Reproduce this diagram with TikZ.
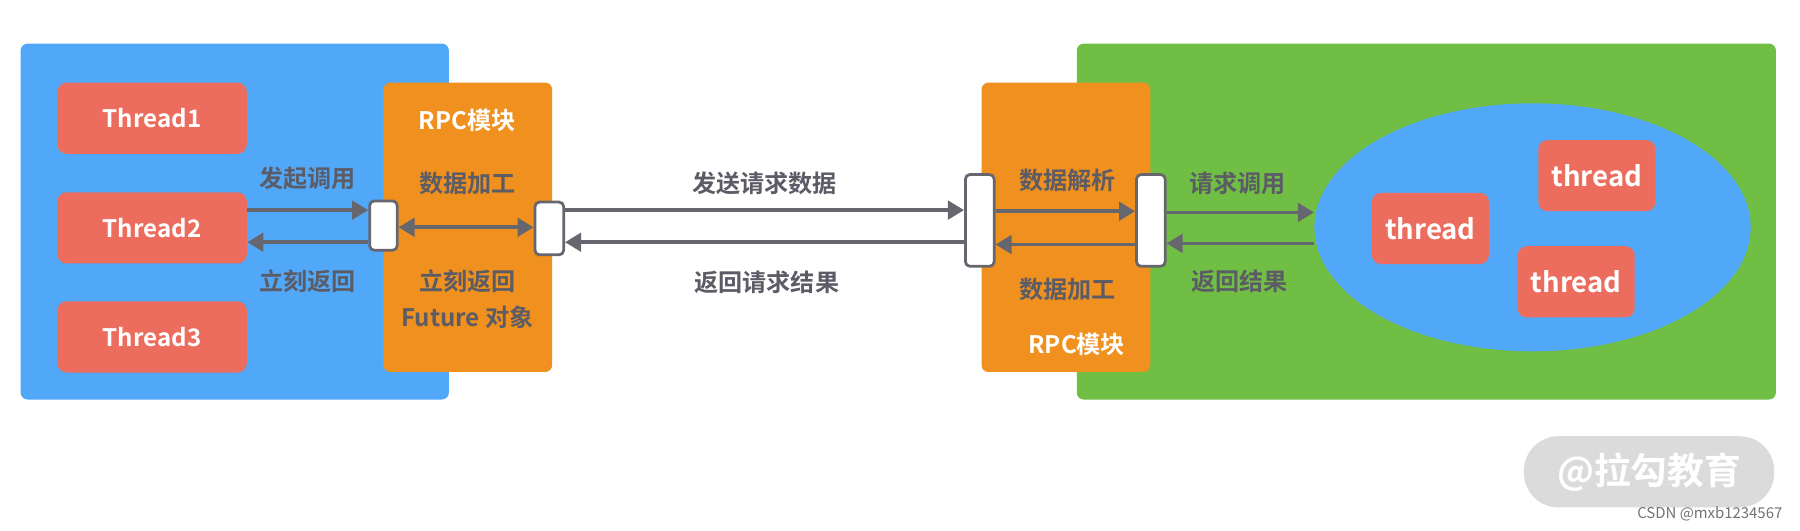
\documentclass[tikz,border=0pt]{standalone}
\usepackage{fontspec}
\setmainfont{Noto Sans CJK SC}[BoldFont={* Bold}]
\usetikzlibrary{arrows.meta,shapes.geometric}
\definecolor{bbg}{HTML}{52A8F8}
\definecolor{gbg}{HTML}{70BE44}
\definecolor{obg}{HTML}{F0901E}
\definecolor{rbg}{HTML}{EC6C5E}
\definecolor{tx}{HTML}{5C5C66}
\definecolor{ar}{HTML}{66666F}
\tikzset{
 thr/.style={fill=rbg,rounded corners=4pt,text=white,font=\fontsize{10.5}{12}\selectfont\bfseries},
 port/.style={draw=ar,line width=1.2pt,fill=white,rounded corners=2pt},
 lab/.style={text=tx,font=\fontsize{10.5}{12}\selectfont\bfseries},
 conn/.style={draw=ar,line width=1.6pt,-{Triangle[length=7pt,width=8pt]}},
}
\begin{document}
\begin{tikzpicture}[x=0.5pt,y=-0.5pt]
\useasboundingbox (0,0) rectangle (1568,462);
\fill[white] (0,0) rectangle (1568,462);
% left
\fill[bbg,rounded corners=3pt] (18,38) rectangle (391,348);
\node[thr,minimum width=82.5pt,minimum height=31pt] (t1) at (132.5,103) {Thread1};
\node[thr,minimum width=82.5pt,minimum height=31pt] (t2) at (132.5,198.5) {Thread2};
\node[thr,minimum width=82.5pt,minimum height=31pt] (t3) at (132.5,293.5) {Thread3};
\fill[obg,rounded corners=3pt] (334,72) rectangle (481,324);
\node[port,minimum width=12pt,minimum height=21.5pt,inner sep=0] (pa) at (334,196.5) {};
\node[port,minimum width=12.5pt,minimum height=23pt,inner sep=0] (pb) at (478.5,199) {};
% right
\fill[gbg,rounded corners=3pt] (938,38) rectangle (1547,348);
\fill[obg,rounded corners=3pt] (855,72) rectangle (1002,324);
\node[port,minimum width=12.5pt,minimum height=40pt,inner sep=0] (pc) at (853.5,192) {};
\node[port,minimum width=12.5pt,minimum height=40pt,inner sep=0] (pd) at (1002.5,192) {};
\node[ellipse,fill=bbg,minimum width=190pt,minimum height=108pt,inner sep=0] (el) at (1335,198) {};
\node[thr,minimum width=51pt,minimum height=31pt,font=\fontsize{12}{14}\selectfont\bfseries] (r1) at (1246,199) {thread};
\node[thr,minimum width=51pt,minimum height=31pt,font=\fontsize{12}{14}\selectfont\bfseries] (r2) at (1391,153) {thread};
\node[thr,minimum width=51pt,minimum height=31pt,font=\fontsize{12}{14}\selectfont\bfseries] (r3) at (1373,245.5) {thread};
% arrows
\draw[conn] (t2.east|-0,183) -- (pa.west|-0,183);
\draw[conn] (pa.west|-0,211) -- (t2.east|-0,211);
\draw[conn,{Triangle[length=7pt,width=8pt]}-{Triangle[length=7pt,width=8pt]}] (pa.east|-0,198) -- (pb.west|-0,198);
\draw[conn] (pb.east|-0,183) -- (pc.west|-0,183);
\draw[conn] (pc.west|-0,211) -- (pb.east|-0,211);
\draw[conn] (pc.east|-0,184) -- (pd.west|-0,184);
\draw[conn] (pd.west|-0,213) -- (pc.east|-0,213);
\draw[conn] (pd.east|-0,185) -- (el.west|-0,185);
\draw[conn] (el.west|-0,212) -- (pd.east|-0,212);
% labels
\node[lab] (l1) at (268,155) {发起调用};
\node[lab] (l2) at (268,245) {立刻返回};
\node[text=white,font=\fontsize{10.5}{12}\selectfont\bfseries] (l3) at (407,105) {RPC模块};
\node[lab] (l4) at (407,160) {数据加工};
\node[lab] (l5) at (407,245) {立刻返回};
\node[lab] (l6) at (407,276) {Future 对象};
\node[lab] (l7) at (666,160) {发送请求数据};
\node[lab] (l8) at (668,246) {返回请求结果};
\node[lab] (l9) at (930,157) {数据解析};
\node[lab] (l10) at (930,252) {数据加工};
\node[text=white,font=\fontsize{10.5}{12}\selectfont\bfseries] (l11) at (938,300) {RPC模块};
\node[lab] (l12) at (1078,160) {请求调用};
\node[lab] (l13) at (1080,245) {返回结果};
% watermark
\node[fill=black!14,rounded corners=15pt,minimum width=109pt,minimum height=31pt,text=white,font=\fontsize{16}{18}\selectfont\bfseries] (wm) at (1436.5,411) {@拉勾教育};
\node[text=black!55,font=\fontsize{6.5}{7}\selectfont,anchor=east,inner sep=0] (cs) at (1553,448) {CSDN @mxb1234567};
\end{tikzpicture}
\end{document}
